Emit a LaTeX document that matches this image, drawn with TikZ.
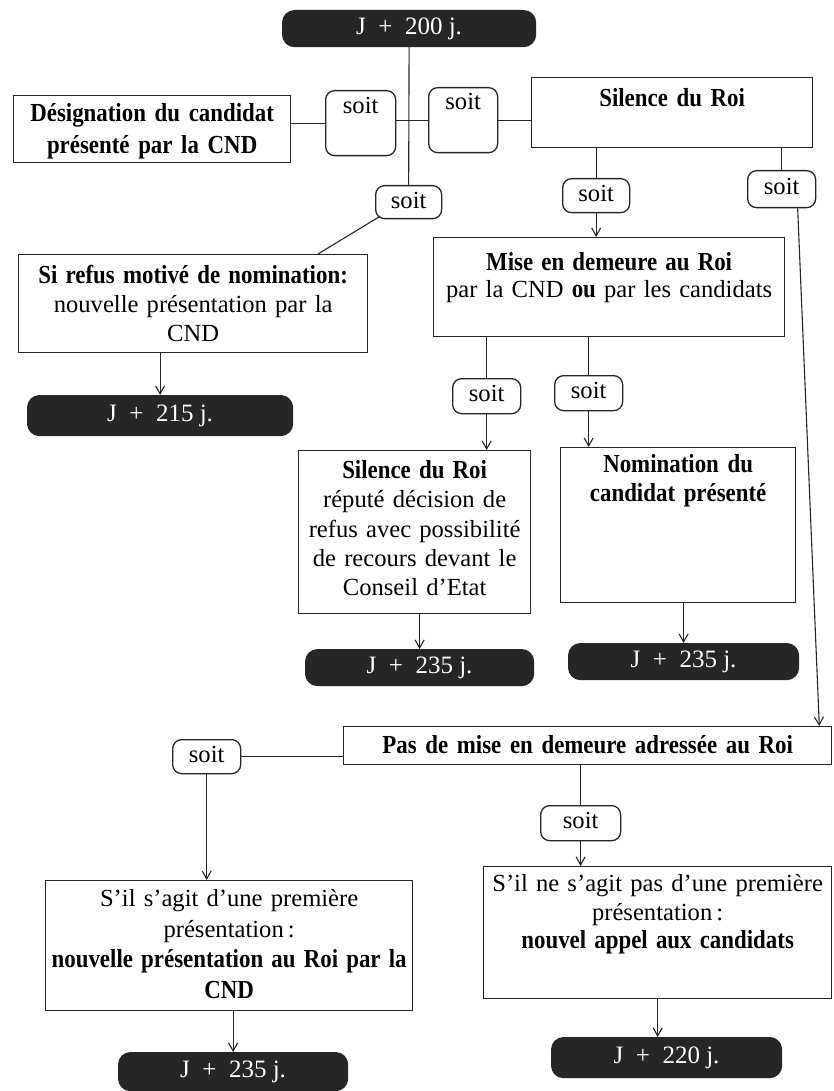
\documentclass[tikz,border=0pt]{standalone}
\usepackage{fontspec}
\setmainfont{Liberation Serif}[BoldFeatures={FakeStretch=0.88}]
\usetikzlibrary{arrows.meta,calc}
\newcommand\B[1]{{\fontsize{26}{29}\selectfont\bfseries #1}}
\tikzset{
  box/.style={draw=black!85, line width=1.3pt, anchor=north west, inner sep=0pt, align=center, font=\fontsize{24.6}{29.5}\selectfont},
  boldbox/.style={box, font=\fontsize{26}{29}\selectfont\bfseries},
  soitbox/.style={box, rounded corners=9pt},
  jbox/.style={fill=black!85, draw=black!85, line width=1.2pt, rounded corners=12pt, anchor=north west, inner sep=0pt, text=white, font=\fontsize{25}{29.5}\selectfont},
  conn/.style={draw=black!85, line width=1.1pt},
  arr/.style={conn, -{Straight Barb[length=8pt,width=9pt]}}
}
\begin{document}
\begin{tikzpicture}[x=1pt,y=-1pt]
\useasboundingbox (0,0) rectangle (833,1091);

% top
\node[jbox, minimum width=253pt, minimum height=36pt] (d200) at (282,10) {J\enspace+\enspace200 j.};
\node[boldbox, text width=277pt, text height=26pt, text depth=41pt, font=\fontsize{26}{32}\selectfont\bfseries] (des) at (13,95) {Désignation du candidat\\présenté par la CND};
\node[soitbox, text width=70pt, text height=23pt, text depth=42pt] (s1) at (325,90) {soit};
\node[soitbox, text width=69pt, text height=22pt, text depth=43pt] (s2) at (428,87) {soit};
\node[boldbox, text width=281pt, text height=29pt, text depth=41pt] (sil) at (531,77) {Silence du Roi};
\node[soitbox, text width=66pt, text height=23pt, text depth=10pt] (s3) at (375,185) {soit};

% left branch
\node[box, text width=349pt, text height=29pt, text depth=69pt, font=\fontsize{24.6}{29}\selectfont] (refus) at (18,254) {\B{Si refus motivé de nomination:}\\nouvelle présentation par la\\CND};
\node[jbox, minimum width=265pt, minimum height=40pt] (d215) at (27,395) {J\enspace+\enspace215 j.};

% right branches
\node[soitbox, text width=67pt, text height=23pt, text depth=11pt] (sA) at (562,178) {soit};
\node[soitbox, text width=68pt, text height=24pt, text depth=13pt] (sR) at (747,170) {soit};
\node[box, text width=351pt, text height=33pt, text depth=66pt, font=\fontsize{24.6}{27}\selectfont] (mise) at (433,237) {\B{Mise en demeure au Roi}\\par la CND \B{ou} par les candidats};
\node[soitbox, text width=68pt, text height=23pt, text depth=12pt] (sC) at (452,378) {soit};
\node[soitbox, text width=68pt, text height=23pt, text depth=12pt] (sD) at (554,375) {soit};
\node[box, text width=232pt, text height=28pt, text depth=135pt, font=\fontsize{24.6}{29.3}\selectfont] (sil2) at (298,450) {\B{Silence du Roi}\\réputé décision de\\refus avec possibilité\\de recours devant le\\Conseil d’Etat};
\node[boldbox, text width=235pt, text height=25pt, text depth=130pt] (nom) at (560,447) {Nomination du\\candidat présenté};
\node[jbox, minimum width=228pt, minimum height=36pt] (d235a) at (305,649) {J\enspace+\enspace235 j.};
\node[jbox, minimum width=230pt, minimum height=36pt] (d235b) at (568,643) {J\enspace+\enspace235 j.};

% bottom
\node[boldbox, text width=488pt, text height=27pt, text depth=11pt] (pas) at (343,726) {Pas de mise en demeure adressée au Roi};
\node[soitbox, text width=68pt, text height=23pt, text depth=11pt] (sE) at (172,739) {soit};
\node[box, text width=367pt, text height=26pt, text depth=104pt, font=\fontsize{24.6}{30.5}\selectfont] (sis) at (45,880) {S’il s’agit d’une première\\présentation\,:\\\B{\mbox{nouvelle présentation au Roi par la}}\\\B{CND}};
\node[jbox, minimum width=229pt, minimum height=38pt] (d235c) at (118,1052) {J\enspace+\enspace235 j.};
\node[soitbox, text width=80pt, text height=23pt, text depth=12pt] (sF) at (540,805) {soit};
\node[box, text width=348pt, text height=25pt, text depth=107pt, font=\fontsize{24.6}{28.5}\selectfont] (sine) at (483,866) {\mbox{S’il ne s’agit pas d’une première}\\présentation\,:\\\B{nouvel appel aux candidats}};
\node[jbox, minimum width=230pt, minimum height=40pt] (d220) at (551,1037) {J\enspace+\enspace220 j.};

% connectors
\draw[conn] (d200.south) -- (s3.north);
\draw[conn] (s1.west -| des.east) -- (s1.west);
\draw[conn] (s2.west -| s1.east) -- (s2.west);
\draw[conn] (s2.east) -- (s2.east -| sil.west);
\draw[conn] ($(s3.south west)+(5,-3)$) -- ($(refus.north west)+(300,0)$);
\draw[arr] (refus.south -| d215.north) -- (d215.north);
\draw[conn] (sil.south -| sA.north) -- (sA.north);
\draw[arr] (sA.south) -- (sA.south |- mise.north);
\draw[conn] (sil.south -| sR.north) -- (sR.north);
\draw[arr] ($(sR.south)+(16,0)$) -- ($(pas.north east)+(-13,0)$);
\draw[conn] (mise.south -| sC.north) -- (sC.north);
\draw[conn] (mise.south -| sD.north) -- (sD.north);
\draw[arr] (sC.south) -- (sC.south |- sil2.north);
\draw[arr] (sD.south) -- (sD.south |- nom.north);
\draw[arr] (sil2.south -| d235a.north) -- (d235a.north);
\draw[arr] (nom.south -| d235b.north) -- (d235b.north);
\draw[conn] (sE.east) -- (sE.east -| pas.west);
\draw[arr] (sE.south) -- (sE.south |- sis.north);
\draw[arr] (sis.south -| d235c.north) -- (d235c.north);
\draw[conn] (pas.south -| sF.north) -- (sF.north);
\draw[arr] (sF.south) -- (sF.south |- sine.north);
\draw[arr] (sine.south) -- (sine.south |- d220.north);
\end{tikzpicture}
\end{document}
